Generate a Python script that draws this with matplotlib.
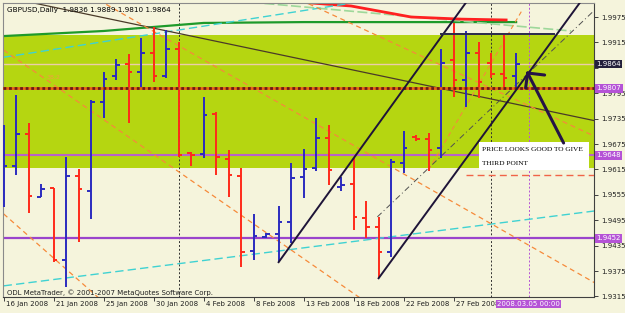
import matplotlib
matplotlib.use('Agg')
import matplotlib.pyplot as plt
import matplotlib.transforms as mtransforms
from matplotlib.patches import Rectangle
import numpy as np

# ---------------- data ----------------
tick_idx = [0, 4, 8, 12, 16, 20, 24, 28, 32, 36]
tick_labels = ['16 Jan 2008', '21 Jan 2008', '25 Jan 2008', '30 Jan 2008', '4 Feb 2008',
               '8 Feb 2008', '13 Feb 2008', '18 Feb 2008', '22 Feb 2008', '27 Feb 2008']
y_ticks = [1.9975, 1.9915, 1.9855, 1.9795, 1.9735, 1.9675, 1.9615, 1.9555, 1.9495,
           1.9435, 1.9375, 1.9315]
hidden_tick_labels = [1.9855]

opens = [1.9566, 1.9623, 1.9699, 1.9550, 1.9571, 1.9401, 1.9599, 1.9564, 1.9774, 1.9836,
         1.9864, 1.9845, 1.9890, 1.9836, 1.9899, 1.9654, 1.9651, 1.9746, 1.9640, 1.9599,
         1.9422, 1.9455, 1.9463, 1.9491, 1.9597, 1.9618, 1.9689, 1.9574, 1.9581, 1.9500,
         1.9479, 1.9420, 1.9630, 1.9692, 1.9687, 1.9666, 1.9873, 1.9826, 1.9890, 1.9866,
         1.9840, 1.9836]
highs = [1.9720, 1.9791, 1.9725, 1.9581, 1.9571, 1.9644, 1.9616, 1.9779, 1.9845, 1.9876,
         1.9888, 1.9925, 1.9951, 1.9944, 1.9916, 1.9656, 1.9786, 1.9751, 1.9661, 1.9618,
         1.9510, 1.9465, 1.9529, 1.9630, 1.9663, 1.9736, 1.9720, 1.9597, 1.9642, 1.9540,
         1.9503, 1.9640, 1.9706, 1.9696, 1.9701, 1.9899, 1.9961, 1.9942, 1.9916, 1.9890,
         1.9933, 1.9889]
lows = [1.9526, 1.9602, 1.9512, 1.9550, 1.9396, 1.9337, 1.9444, 1.9498, 1.9736, 1.9826,
        1.9725, 1.9807, 1.9822, 1.9831, 1.9644, 1.9623, 1.9642, 1.9602, 1.9550, 1.9385,
        1.9401, 1.9453, 1.9396, 1.9441, 1.9548, 1.9611, 1.9578, 1.9564, 1.9472, 1.9453,
        1.9358, 1.9408, 1.9607, 1.9682, 1.9611, 1.9642, 1.9786, 1.9762, 1.9784, 1.9831,
        1.9803, 1.9810]
closes = [1.9623, 1.9699, 1.9552, 1.9569, 1.9401, 1.9599, 1.9569, 1.9774, 1.9829, 1.9862,
          1.9845, 1.9890, 1.9836, 1.9899, 1.9649, 1.9649, 1.9744, 1.9644, 1.9602, 1.9420,
          1.9458, 1.9463, 1.9491, 1.9595, 1.9616, 1.9689, 1.9614, 1.9578, 1.9503, 1.9479,
          1.9420, 1.9633, 1.9666, 1.9687, 1.9661, 1.9866, 1.9826, 1.9890, 1.9822, 1.9840,
          1.9831, 1.9864]

zone_low, zone_high = 1.9618, 1.99325
level_bid = 1.9864
level_red = 1.9807
level_mid = 1.9648
level_low = 1.9452

ma_green_x = [0, 8, 16, 24, 32, 41]
ma_green_y = [1.9930, 1.9942, 1.9961, 1.9963, 1.9963, 1.9963]
ma_red_x = [23.8, 27.8, 32.6, 36.6, 40.2]
ma_red_y = [2.0010, 2.0001, 1.9975, 1.9970, 1.9968]
ma_light_x = [19.8, 45.4]
ma_light_y = [2.0010, 1.9942]
cyan_up_x = [0, 29.4]
cyan_up_y = [1.9880, 2.0015]
cyan_low_x = [0, 47.3]
cyan_low_y = [1.9340, 1.9517]
trend_dark_x = [0, 47.3]
trend_dark_y = [2.0023, 1.9730]
fan1_x = [23.76, 47.3]
fan1_y = [2.0015, 1.9693]
fan2_x = [7.6, 47.3]
fan2_y = [2.0015, 1.9347]
fan3_x = [0, 32]
fan3_y = [1.9897, 1.9240]
fan4_x = [0, 10]
fan4_y = [1.9510, 1.9249]
rise_x = [34, 41.5]
rise_y = [1.9614, 1.9992]
median_x = [29.9, 47.3]
median_y = [1.9503, 1.9992]
chan1_x = [22, 36.96]
chan1_y = [1.9396, 2.0008]
chan2_x = [30, 46.08]
chan2_y = [1.9358, 2.0008]
top_seg_x = [34.96, 44.0]
top_seg_y = [1.99348, 1.99348]
red_dash_x = [36.96, 47.3]
red_dash_y = [1.96018, 1.96018]
arrow_x = [44.8, 41.92]
arrow_y = [1.96774, 1.98427]
barb1_x = [41.92, 43.28]
barb1_y = [1.98427, 1.98380]
barb2_x = [41.92, 41.76]
barb2_y = [1.98427, 1.98073]
note_box_x = [38.0, 46.8]
note_box_y = [1.96136, 1.96797]
separators = [14, 39]
cursor_idx = 42

# ---------------- style ----------------
BG = '#F5F4DC'
GREEN = '#B5D611'
BLUE = '#2B2BBF'
RED = '#FF2A1A'
PURPLE = '#B553D6'

plt.rcParams['hatch.color'] = '#E9DDB8'
plt.rcParams['hatch.linewidth'] = 0.6

fig = plt.figure(figsize=(6.25, 3.13), dpi=100, facecolor=BG)
ax = fig.add_axes([3 / 625, 16 / 313, 591 / 625, 294 / 313])
ax.set_facecolor(BG)
ax.set_xlim(-0.05, 47.23)
ax.set_ylim(1.93137, 2.00081)

# dotted background texture
ax.add_patch(Rectangle((0, 0), 1, 1, transform=ax.transAxes, fc='none', ec='none',
                       hatch='....', zorder=0.1))

ax.axhspan(zone_low, zone_high, color=GREEN, zorder=0.5, lw=0)

# horizontal levels
ax.axhline(level_bid, color='#EBCDAA', lw=1.0, zorder=1)
ax.axhline(level_red, color='#E86414', lw=2.0, zorder=4)
ax.axhline(level_red, color='#6A1A1A', lw=2.0, ls=(0, (1, 1)), zorder=4.1)
ax.axhline(level_mid, color='#B862C8', lw=1.5, zorder=1.5)
ax.axhline(level_low, color='#9A44CC', lw=1.6, zorder=1.5)

# separators
for s in separators:
    ax.axvline(s, color='#303030', lw=0.7, ls=(0, (2, 2)), zorder=1.2)
ax.axvline(cursor_idx, color=PURPLE, lw=0.7, ls=(0, (2, 2)), zorder=1.2)

# moving averages and studies
ax.plot(ma_green_x, ma_green_y, color='#1E9A2A', lw=1.6, zorder=2)
ax.plot(ma_light_x, ma_light_y, color='#9ED89A', lw=1.2, ls=(0, (6, 2)), zorder=2)
ax.plot(ma_red_x, ma_red_y, color='#FF2020', lw=2.0, zorder=2)
ax.plot(cyan_up_x, cyan_up_y, color='#3FD2D2', lw=1.0, ls=(0, (6, 3)), zorder=2)
ax.plot(cyan_low_x, cyan_low_y, color='#3FD2D2', lw=1.0, ls=(0, (6, 3)), zorder=2)
ax.plot(trend_dark_x, trend_dark_y, color='#4A3A28', lw=0.9, zorder=2)
for fx, fy in [(fan1_x, fan1_y), (fan2_x, fan2_y), (fan3_x, fan3_y), (fan4_x, fan4_y)]:
    ax.plot(fx, fy, color='#F58A3A', lw=0.9, ls=(0, (4, 3)), zorder=2)
ax.plot(rise_x, rise_y, color='#F58A3A', lw=0.8, ls=(0, (4, 3)), zorder=2)
ax.plot(median_x, median_y, color='#505050', lw=0.7, ls=(0, (6, 3, 1, 3)), zorder=2)
ax.text(3.4, 1.9833, '38.2', color='#F0A040', fontsize=4.5, va='center', zorder=2)

# OHLC bars
idx = np.arange(len(opens))
cols = [BLUE if c >= o else RED for o, c in zip(opens, closes)]
ax.vlines(idx, lows, highs, colors=cols, lw=1.4, zorder=3)
ax.hlines(opens, idx - 0.3, idx, colors=cols, lw=1.4, zorder=3)
ax.hlines(closes, idx, idx + 0.3, colors=cols, lw=1.4, zorder=3)

# channel & drawings
ax.plot(chan1_x, chan1_y, color='#1E1438', lw=1.4, zorder=5)
ax.plot(chan2_x, chan2_y, color='#1E1438', lw=1.4, zorder=5)
ax.plot(top_seg_x, top_seg_y, color='#2A2A48', lw=1.4, zorder=5)
ax.plot(red_dash_x, red_dash_y, color='#F06448', lw=1.0, ls=(0, (5, 3)), zorder=5)

# note box
ax.fill_between(note_box_x, note_box_y[0], note_box_y[1], color='white', lw=0, zorder=6)
ax.text(note_box_x[0] + 0.25, 1.9663, 'PRICE LOOKS GOOD TO GIVE', family='Liberation Serif',
        fontsize=5.3, color='black', va='center', zorder=7)
ax.text(note_box_x[0] + 0.25, 1.9630, 'THIRD POINT', family='Liberation Serif',
        fontsize=5.3, color='black', va='center', zorder=7)

# arrow
for xs, ys in [(arrow_x, arrow_y), (barb1_x, barb1_y), (barb2_x, barb2_y)]:
    ax.plot(xs, ys, color='#241446', lw=2.2, solid_capstyle='round', zorder=8)

# axes styling
for sp in ax.spines.values():
    sp.set_color('#8A8A8A')
    sp.set_linewidth(0.8)
ax.spines['bottom'].set_color('#404040')
ax.spines['right'].set_color('#404040')

ax.set_xticks(tick_idx)
ax.set_xticklabels([])
ax.yaxis.tick_right()
ax.set_yticks(y_ticks)
ax.set_yticklabels(['' if v in hidden_tick_labels else f'{v:.4f}' for v in y_ticks])
ax.tick_params(axis='x', direction='out', length=3, width=0.7, color='#404040')
ax.tick_params(axis='y', direction='out', length=3, width=0.7, color='#404040',
               labelsize=5, pad=2, labelcolor='#202020')

blend_x = mtransforms.blended_transform_factory(ax.transData, ax.transAxes)
for t, lab in zip(tick_idx, tick_labels):
    ax.text(t + 0.2, -0.014, lab, transform=blend_x, fontsize=5, color='#202020',
            ha='left', va='top', clip_on=False)
ax.text(cursor_idx, -0.014, '2008.03.05 00:00', transform=blend_x, fontsize=5,
        color='white', ha='center', va='top', clip_on=False, zorder=10,
        bbox=dict(boxstyle='square,pad=0.15', fc=PURPLE, ec='none'))

blend_y = mtransforms.blended_transform_factory(ax.transAxes, ax.transData)
for val, fc in [(level_bid, '#24203C'), (level_red, PURPLE), (level_mid, PURPLE), (level_low, PURPLE)]:
    ax.text(1.004, val, f'{val:.4f}', transform=blend_y, fontsize=5, color='white',
            ha='left', va='center', clip_on=False, zorder=10,
            bbox=dict(boxstyle='square,pad=0.2', fc=fc, ec='none'))

ax.text(0.006, 0.988, 'GBPUSD,Daily  1.9836 1.9889 1.9810 1.9864', transform=ax.transAxes,
        fontsize=5.2, color='black', ha='left', va='top', zorder=10)
ax.text(0.006, 0.016, 'ODL MetaTrader, \u00a9 2001-2007 MetaQuotes Software Corp.',
        transform=ax.transAxes, fontsize=5, color='#202020', ha='left', va='center', zorder=10)

fig.savefig('out.png', dpi=100, facecolor=BG)
